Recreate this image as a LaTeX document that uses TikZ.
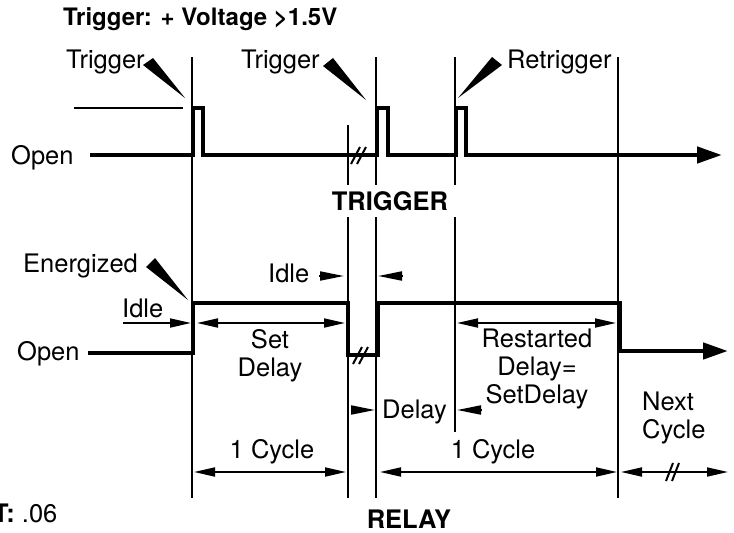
\documentclass[tikz,border=0pt]{standalone}
\usepackage{fontspec}
\setmainfont{TeX Gyre Heros}
\usetikzlibrary{arrows.meta}

\begin{document}
\begin{tikzpicture}[
  x=1pt, y=-1pt,
  lbl/.style={inner sep=0pt, font=\fontsize{25.5}{28}\selectfont},
  heading/.style={inner sep=0pt, font=\fontsize{25.5}{28}\selectfont\bfseries},
  guide/.style={line width=2pt},
  wave/.style={line width=4.5pt, line join=miter,
    -{Triangle[length=25pt,width=16pt]}},
  dim/.style={line width=1.8pt,
    {Triangle[length=21pt,width=9pt]}-{Triangle[length=21pt,width=9pt]}},
  halfdim/.style={line width=1.8pt, -{Triangle[length=21pt,width=9pt]}},
  marker/.style={line width=1.8pt, -{Triangle[length=24pt,width=9pt]}},
  slash/.style={line width=2pt}
]
\useasboundingbox (0,0) rectangle (734,533);

% guide lines
\draw[guide] (192,57) -- (192,498);
\draw[guide] (348,125) -- (348,498);
\draw[guide] (376,57) -- (376,498);
\draw[guide] (455,57) -- (455,432);
\draw[guide] (618,57) -- (618,498);
\draw[guide] (74,108) -- (183,108);

% trigger line
\draw[wave] (90,155) -- (193,155) -- (193,108) -- (203,108) -- (203,155)
  -- (377,155) -- (377,108) -- (388,108) -- (388,155)
  -- (456,155) -- (456,108) -- (466,108) -- (466,155) -- (722,155);
\draw[slash] (351,164) -- (360,147) (357,164) -- (366,147);

% relay line
\draw[wave] (88,353) -- (193,353) -- (193,303) -- (348,303) -- (348,355)
  -- (378,355) -- (378,303) -- (620,303) -- (620,351) -- (728,351);
\draw[slash] (353,364) -- (362,347) (359,364) -- (368,347);

% pointers
\fill (143,65) -- (153,58) -- (185,98) -- cycle;
\fill (323,66) -- (333,58) -- (366,100) -- cycle;
\fill (492,57) -- (502,65) -- (458,98) -- cycle;
\fill (146,267) -- (155,258) -- (188,300) -- cycle;

% dimensions
\draw[halfdim] (123,323) -- (191,323);
\draw[dim] (197,323) -- (345,323);
\draw[dim] (457,323) -- (616,323);
\draw[dim] (194,472) -- (346,472);
\draw[dim] (380,472) -- (617,472);
\draw[dim] (621,472) -- (728,472);
\draw[slash] (666,481) -- (673,463) (672,481) -- (679,463);
\draw[marker] (319,276) -- (344,276);
\draw[marker] (403,276) -- (378,276);
\draw[marker] (351,410) -- (375,410);
\draw[marker] (481,410) -- (457,410);

% labels
\node[heading, anchor=base west, font=\fontsize{24}{28}\selectfont\bfseries] (title) at (63,25) {Trigger: + Voltage >1.5V};
\node[lbl, anchor=base west] (trigA) at (66,68) {Trigger};
\node[lbl, anchor=base west] (trigB) at (241,68) {Trigger};
\node[lbl, anchor=base west] (retrig) at (507,68) {Retrigger};
\node[lbl, anchor=base west] (openT) at (11,164) {Open};
\node[heading, fill=white, minimum width=136pt, minimum height=32pt] (trigger) at (390,201) {TRIGGER};
\node[lbl, anchor=base west] (energized) at (23,272) {Energized};
\node[lbl, anchor=base west] (idleA) at (122,317) {Idle};
\node[lbl, anchor=base west] (idleB) at (268,282) {Idle};
\node[lbl, anchor=base west] (openR) at (17,360) {Open};
\node[lbl, anchor=north, align=center] (setdelay) at (270,329) {Set\\Delay};
\node[lbl, anchor=north, align=center] (restart) at (537,329) {Restarted\\Delay=\\SetDelay};
\node[lbl, anchor=base west] (delayB) at (382,418) {Delay};
\node[lbl, anchor=north west, align=left] (next) at (642,392) {Next\\Cycle};
\node[lbl, anchor=base] (cycleA) at (272,458) {1 Cycle};
\node[lbl, anchor=base] (cycleB) at (493,458) {1 Cycle};
\node[heading, anchor=base] (relay) at (409,528) {RELAY};
\node[lbl, anchor=base west] (weight) at (-7,522) {\textbf{T:} .06};
\end{tikzpicture}
\end{document}
